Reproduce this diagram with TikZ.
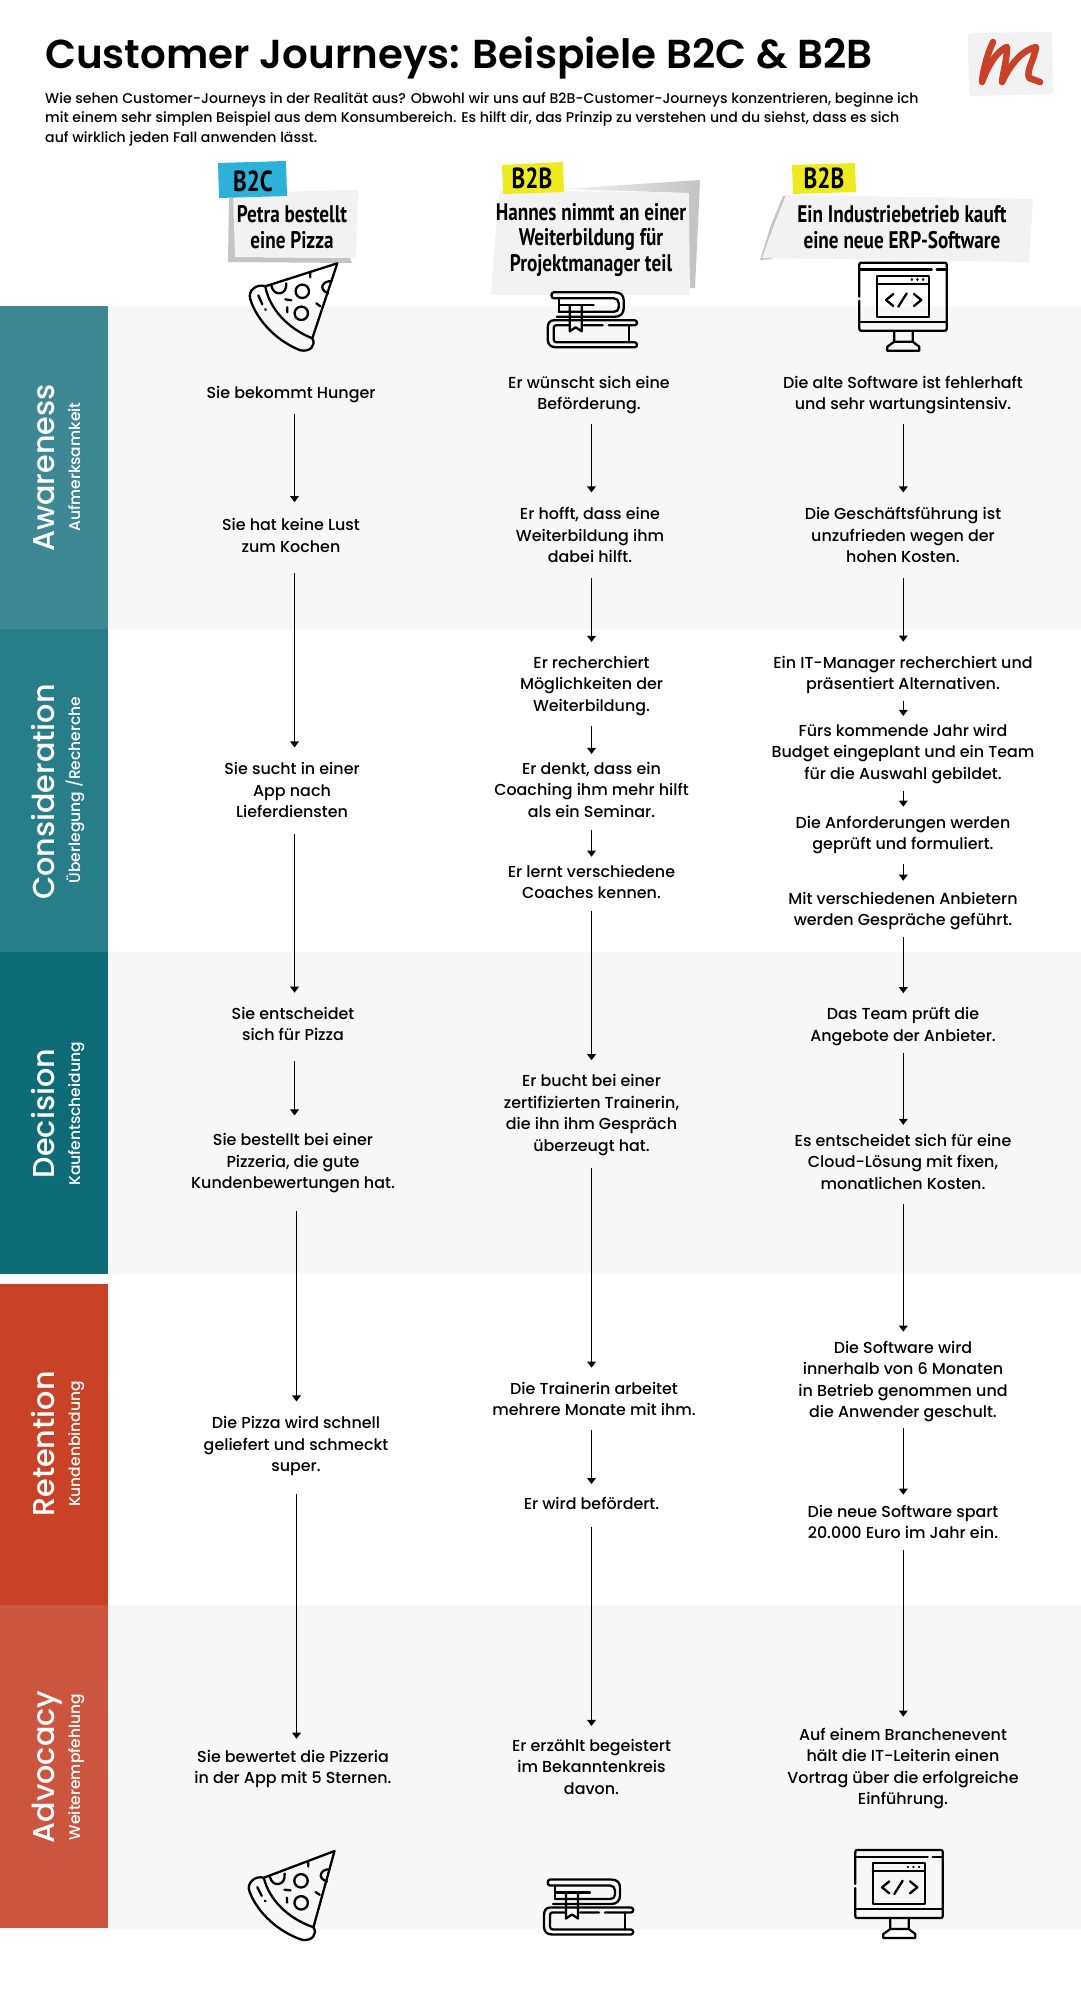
\documentclass[tikz,border=0pt]{standalone}
\usepackage{fontspec}
\usetikzlibrary{arrows.meta}
\setmainfont{Poppins Medium}
\newfontfamily\titlefont{Poppins SemiBold}
\newfontfamily\markerfont[FakeStretch=0.8]{PT Sans Bold}
\definecolor{awarenessc}{HTML}{3E8794}
\definecolor{considerc}{HTML}{287D8B}
\definecolor{decisionc}{HTML}{0E6C78}
\definecolor{retentionc}{HTML}{C94227}
\definecolor{advocacyc}{HTML}{CC553F}
\definecolor{bandc}{HTML}{F7F7F7}
\definecolor{paperc}{HTML}{F2F2F2}
\definecolor{shadowc}{HTML}{C4C4C4}
\definecolor{tagblue}{HTML}{2EB1D8}
\definecolor{tagyellow}{HTML}{EEEA20}
\tikzset{
	step text/.style={align=center, inner xsep=0pt, inner ysep=3pt, yshift=-3pt, font=\fontsize{15.9}{21.5}\selectfont,
		execute at begin node=\strut, execute at end node=\strut},
	stage main/.style={anchor=base, rotate=90, white, inner sep=0pt, font=\fontsize{30.2}{30}\selectfont},
	stage sub/.style={anchor=base, rotate=90, white, inner sep=0pt, font=\fontsize{15.5}{16}\selectfont},
	marker text/.style={align=center, inner sep=0pt, font=\markerfont\fontsize{24}{25.5}\selectfont},
	tag text/.style={inner sep=0pt, font=\markerfont\fontsize{29}{29}\selectfont},
	flow/.style={line width=1.5pt, -{Triangle[length=6pt,width=8.5pt]}},
	icon/.style={line width=2.3pt, line cap=round, line join=round},
	pizza/.pic={
		\draw[icon] (0,0) -- (-72,23) .. controls (-80,20) and (-90,27) .. (-87,36)
			.. controls (-80,58) and (-60,78) .. (-37,87) .. controls (-27,89) and (-21,82) .. (-25,75) -- cycle;
		\draw[icon] (-72,23) .. controls (-68,45) and (-50,65) .. (-25,75);
		\draw[icon] (-35,28) circle [radius=6.7] (-36,50) circle [radius=6.7];
		\draw[icon] (-66,22) .. controls (-64,34) and (-50,32) .. (-51,20);
		\draw[icon] (-6,18) .. controls (-14,17) and (-20,26) .. (-9,30);
		\draw[icon] (-27,10) -- (-27,14) (-52,36) -- (-46,37) (-50,44) -- (-50,49) (-21,40) -- (-17,43) (-79,32) -- (-75,41) (-72,46) -- (-71.5,46.5);
	},
	books/.pic={
		\draw[icon] (-35,-2.5) -- (23,-2.5) .. controls (29,-2.5) and (32,-6) .. (32,-11) -- (32,-19) .. controls (32,-24) and (29,-27) .. (23,-27)
			-- (-38,-27) .. controls (-41,-27) and (-41,-21) .. (-38,-21) -- (22,-21) .. controls (25,-21) and (27,-19) .. (27,-16)
			-- (27,-12) .. controls (27,-9) and (25,-7.5) .. (22,-7.5) -- (-33,-7.5);
		\draw[icon] (-33,-21) -- (-33,-7.5) (-32,-14) -- (2,-14);
		\draw[icon] (-22,-14) -- (-22,12) -- (-16,8) -- (-10,12) -- (-10,-14);
		\draw[icon] (-38,1) -- (43,1) .. controls (46,1) and (46,6) .. (43,6) -- (17,6) (11,6) -- (-8,6) (-22,6) -- (-36,6)
			.. controls (-38,6) and (-38,8) .. (-38,10) -- (-38,20) .. controls (-38,22) and (-37,23) .. (-35,23) -- (43,23)
			.. controls (46,23) and (46,28) .. (43,28) -- (-36,28) .. controls (-41,28) and (-44,25) .. (-44,20)
			-- (-44,9) .. controls (-44,4) and (-42,1) .. (-38,1);
		\draw[icon] (37,6) -- (37,23);
	},
	screen/.pic={
		\draw[icon] (-43.7,-10) -- (-43.7,-42) .. controls (-43.7,-43.5) and (-43,-44) .. (-41.7,-44) -- (41.7,-44)
			.. controls (43,-44) and (43.7,-43.5) .. (43.7,-42) -- (43.7,22) .. controls (43.7,23.5) and (43,24) .. (41.7,24)
			-- (-41.7,24) .. controls (-43,24) and (-43.7,23.5) .. (-43.7,22) -- (-43.7,-6);
		\draw[icon] (-43.7,-37.3) -- (28.7,-37.3) (33.7,-37.3) -- (43.7,-37.3) (-43.7,15) -- (43.7,15);
		\draw[icon] (-26.3,-31) rectangle (26,10) (-26.3,-22.7) -- (26,-22.7);
		\draw[icon] (8.7,-27.3) -- (9,-27.3) (14.3,-27.3) -- (14.6,-27.3) (20,-27.3) -- (20.3,-27.3);
		\draw[icon] (-9.7,-12.7) -- (-17,-6.7) -- (-9.7,-0.7) (11,-12.7) -- (18.3,-6.7) -- (11,-0.7) (3.7,-13.3) -- (-4.7,0);
		\draw[icon] (-8.7,25) -- (-8.7,35) -- (-15.7,40) -- (-15.7,44) -- (16.3,44) -- (16.3,40) -- (9.7,35) -- (9.7,25) (-8.7,35) -- (9.7,35);
	},
}
\begin{document}
\begin{tikzpicture}[x=1pt, y=-1pt]
	\useasboundingbox (0,0) rectangle (1081,2000);
	\fill[white] (0,0) rectangle (1081,2000);
	\fill[bandc] (108,306) rectangle (1081,628.5);
	\fill[bandc] (108,951.5) rectangle (1081,1273.5);
	\fill[bandc] (108,1605) rectangle (1081,1929);
	\fill[awarenessc] (0,306) rectangle (108,628.5);
	\fill[considerc] (0,628.5) rectangle (108,951.5);
	\fill[decisionc] (0,951.5) rectangle (108,1273.5);
	\fill[retentionc] (0,1284) rectangle (108,1605);
	\fill[advocacyc] (0,1605) rectangle (108,1928);

	\node[stage main] (awareness) at (54,468) {Awareness};
	\node[stage sub] (awarenessDe) at (80,467) {Aufmerksamkeit};
	\node[stage main] (consideration) at (54,792) {Consideration};
	\node[stage sub] (considerationDe) at (80,790) {Überlegung /Recherche};
	\node[stage main] (decision) at (54,1113.5) {Decision};
	\node[stage sub] (decisionDe) at (80,1114) {Kaufentscheidung};
	\node[stage main] (retention) at (54,1444) {Retention};
	\node[stage sub] (retentionDe) at (80,1444) {Kundenbindung};
	\node[stage main] (advocacy) at (54,1767) {Advocacy};
	\node[stage sub] (advocacyDe) at (80,1767) {Weiterempfehlung};

	\node[anchor=base west, inner sep=0pt, font=\titlefont\fontsize{40.4}{41}\selectfont] (title) at (45,68) {Customer Journeys: Beispiele B2C \& B2B};
	\node[anchor=north west, align=left, inner sep=0pt, font=\fontsize{14.1}{19.6}\selectfont] (intro) at (45,92) {Wie sehen Customer-Journeys in der Realität aus? Obwohl wir uns auf B2B-Customer-Journeys konzentrieren, beginne ich\\mit einem sehr simplen Beispiel aus dem Konsumbereich. Es hilft dir, das Prinzip zu verstehen und du siehst, dass es sich\\auf wirklich jeden Fall anwenden lässt.};

	\fill[paperc, rounded corners=3pt] (968,33) -- (1052,32) -- (1053,94) -- (969,96) -- cycle;
	\draw[retentionc, line width=6.5pt, line cap=round, line join=round] (993,42) .. controls (987,55) and (983,70) .. (982,82)
		.. controls (988,65) and (998,50) .. (1007,47) .. controls (1007,60) and (1003,72) .. (1002,82)
		.. controls (1010,65) and (1022,50) .. (1036,47) .. controls (1035,58) and (1026,70) .. (1029,78) -- (1040,82);

	\fill[shadowc] (229,198) -- (235,198) -- (235,257) -- (350,258) -- (352,263) -- (228,262) -- cycle;
	\fill[paperc] (233,193) -- (358,190) -- (356,258) -- (235,257) -- cycle;
	\fill[tagblue] (218,163) -- (286,161) -- (287,196) -- (219,198) -- cycle;
	\shade[left color=paperc, right color=shadowc] (563,189) -- (700,180) -- (690,193) -- cycle;
	\fill[shadowc] (688,193) -- (700,180) -- (698,225) -- (695,288) -- (688,288) -- cycle;
	\fill[paperc] (500,190) -- (689,193) -- (690,295) -- (491,295) -- (495,240) -- cycle;
	\fill[tagyellow] (502,165) -- (563,162) -- (564,192) -- (503,194) -- cycle;
	\fill[shadowc] (783,196) -- (788,196) -- (772,259) -- (760,260) -- (771,225) -- cycle;
	\fill[paperc] (786,195) -- (1033,199) -- (1029,262) -- (762,258) -- (774,225) -- cycle;
	\fill[tagyellow] (792,165) -- (855,163) -- (856,192) -- (793,194) -- cycle;

	\node[tag text] (tagA) at (253,181) {B2C};
	\node[tag text] (tagB) at (532,178) {B2B};
	\node[tag text] (tagC) at (824,178) {B2B};
	\node[marker text] (caseA) at (292,227) {Petra bestellt\\eine Pizza};
	\node[marker text] (caseB) at (591,240) {Hannes nimmt an einer\\Weiterbildung für\\Projektmanager teil};
	\node[marker text] (caseC) at (902,227) {Ein Industriebetrieb kauft\\eine neue ERP-Software};

	\pic at (337.3,263.3) {pizza};
	\pic at (591.7,319.3) {books};
	\pic at (903,306.7) {screen};
	\pic[rotate=3] at (334.5,1851) {pizza};
	\pic at (588,1906.5) {books};
	\pic at (899,1894) {screen};

	\node[step text] (a1) at (291,391) {Sie bekommt Hunger};
	\node[step text] (a2) at (291,535.5) {Sie hat keine Lust\\zum Kochen};
	\node[step text] (a3) at (292,790.5) {Sie sucht in einer\\App nach\\Lieferdiensten};
	\node[step text] (a4) at (293,1024) {Sie entscheidet\\sich für Pizza};
	\node[step text] (a5) at (293,1161.5) {Sie bestellt bei einer\\Pizzeria, die gute\\Kundenbewertungen hat.};
	\node[step text] (a6) at (296,1444.5) {Die Pizza wird schnell\\geliefert und schmeckt\\super.};
	\node[step text] (a7) at (293,1767) {Sie bewertet die Pizzeria\\in der App mit 5 Sternen.};

	\node[step text] (b1) at (589,393) {Er wünscht sich eine\\Beförderung.};
	\node[step text] (b2) at (590,535.5) {Er hofft, dass eine\\Weiterbildung ihm\\dabei hilft.};
	\node[step text] (b3) at (591.5,684) {Er recherchiert\\Möglichkeiten der\\Weiterbildung.};
	\node[step text] (b4) at (591.5,790) {Er denkt, dass ein\\Coaching ihm mehr hilft\\als ein Seminar.};
	\node[step text] (b5) at (591.5,882) {Er lernt verschiedene\\Coaches kennen.};
	\node[step text] (b6) at (591.5,1113) {Er bucht bei einer\\zertifizierten Trainerin,\\die ihn ihm Gespräch\\überzeugt hat.};
	\node[step text] (b7) at (594,1399) {Die Trainerin arbeitet\\mehrere Monate mit ihm.};
	\node[step text] (b8) at (591.5,1502) {Er wird befördert.};
	\node[step text] (b9) at (591.5,1767) {Er erzählt begeistert\\im Bekanntenkreis\\davon.};

	\node[step text] (c1) at (903,393) {Die alte Software ist fehlerhaft\\und sehr wartungsintensiv.};
	\node[step text] (c2) at (903,535.5) {Die Geschäftsführung ist\\unzufrieden wegen der\\hohen Kosten.};
	\node[step text] (c3) at (903,673) {Ein IT-Manager recherchiert und\\präsentiert Alternativen.};
	\node[step text] (c4) at (903,752) {Fürs kommende Jahr wird\\Budget eingeplant und ein Team\\für die Auswahl gebildet.};
	\node[step text] (c5) at (903,833) {Die Anforderungen werden\\geprüft und formuliert.};
	\node[step text] (c6) at (903,909) {Mit verschiedenen Anbietern\\werden Gespräche geführt.};
	\node[step text] (c7) at (903,1024.5) {Das Team prüft die\\Angebote der Anbieter.};
	\node[step text] (c8) at (903,1162) {Es entscheidet sich für eine\\Cloud-Lösung mit fixen,\\monatlichen Kosten.};
	\node[step text] (c9) at (903,1379.5) {Die Software wird\\innerhalb von 6 Monaten\\in Betrieb genommen und\\die Anwender geschult.};
	\node[step text] (c10) at (903,1522) {Die neue Software spart\\20.000 Euro im Jahr ein.};
	\node[step text] (c11) at (903,1766.5) {Auf einem Branchenevent\\hält die IT-Leiterin einen\\Vortrag über die erfolgreiche\\Einführung.};

	\coordinate (lineA) at (294.5,0);
	\coordinate (lineD) at (296.5,0);
	\coordinate (lineB) at (591.5,0);
	\coordinate (lineC) at (903.3,0);
	\foreach \from/\to/\via/\s/\e in {a1/a2/lineA/6/13, a2/a3/lineA/11/12, a3/a4/lineA/6/11, a4/a5/lineA/11/15, a5/a6/lineD/12/12, a6/a7/lineD/12/8,
		b1/b2/lineB/5/12, b2/b3/lineB/5/11, b3/b4/lineB/5/5, b4/b5/lineB/3/5, b5/b6/lineB/3/11, b6/b7/lineB/7/11, b7/b8/lineB/5/7, b8/b9/lineB/8/10,
		c1/c2/lineC/5/12, c2/c3/lineC/5/11, c3/c4/lineC/2/5, c4/c5/lineC/2/6, c5/c6/lineC/5/8, c6/c7/lineC/2/11, c7/c8/lineC/2/6, c8/c9/lineC/5/6, c9/c10/lineC/1/7, c10/c11/lineC/2/8}
		\draw[flow, shorten <=\s pt, shorten >=\e pt] (\from.south -| \via) -- (\to.north -| \via);
\end{tikzpicture}
\end{document}
